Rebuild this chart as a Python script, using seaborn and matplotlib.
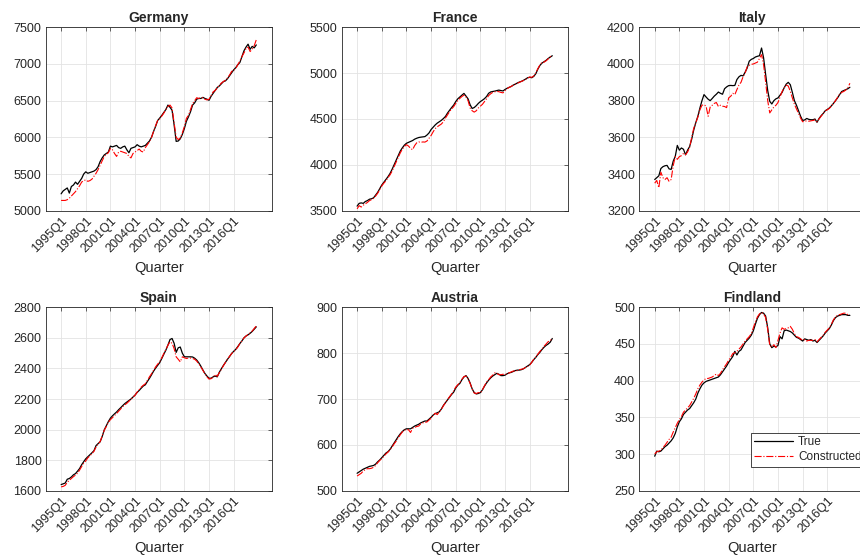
import matplotlib
matplotlib.use("Agg")
import matplotlib.pyplot as plt
import seaborn as sns
import pandas as pd

# quarterly index 0 = 1995Q1 ... 95 = 2018Q4
quarters = [f"{y}Q{q}" for y in range(1995, 2019) for q in range(1, 5)]
tick_labels = ["1995Q1", "1998Q1", "2001Q1", "2004Q1", "2007Q1", "2010Q1", "2013Q1", "2016Q1"]

countries = ["Germany", "France", "Italy", "Spain", "Austria", "Findland"]

de_true = [5230, 5270, 5290, 5310, 5240, 5330, 5350, 5390, 5360, 5400, 5440, 5500,
           5530, 5510, 5520, 5530, 5540, 5560, 5600, 5670, 5720, 5760, 5780, 5800,
           5880, 5870, 5880, 5890, 5860, 5850, 5870, 5880, 5830, 5790, 5850, 5860,
           5870, 5900, 5880, 5870, 5880, 5890, 5920, 5950, 6000, 6080, 6150, 6230,
           6263, 6300, 6340, 6380, 6440, 6410, 6370, 6170, 5945, 5950, 5980, 6040,
           6120, 6220, 6280, 6350, 6440, 6470, 6520, 6530, 6530, 6545, 6530, 6520,
           6505, 6560, 6600, 6640, 6680, 6700, 6730, 6760, 6770, 6800, 6840, 6880,
           6920, 6950, 6990, 7020, 7100, 7180, 7230, 7270, 7200, 7240, 7220, 7260]
de_cons = [5140, 5140, 5140, 5150, 5170, 5200, 5230, 5260, 5300, 5340, 5390, 5410,
           5420, 5400, 5410, 5430, 5470, 5510, 5560, 5620, 5680, 5740, 5770, 5790,
           5850, 5830, 5780, 5740, 5800, 5810, 5800, 5790, 5780, 5740, 5720, 5780,
           5800, 5820, 5840, 5810, 5800, 5860, 5900, 5940, 6000, 6080, 6160, 6230,
           6250, 6290, 6330, 6380, 6420, 6440, 6400, 6200, 6000, 5970, 5990, 6060,
           6150, 6260, 6300, 6380, 6460, 6500, 6540, 6530, 6540, 6540, 6520, 6510,
           6520, 6570, 6620, 6640, 6670, 6710, 6740, 6760, 6780, 6810, 6850, 6900,
           6910, 6940, 6990, 7040, 7100, 7150, 7210, 7230, 7170, 7200, 7250, 7330]

fr_true = [3550, 3580, 3585, 3580, 3600, 3610, 3625, 3630, 3640, 3670, 3700, 3740,
           3780, 3810, 3840, 3870, 3905, 3950, 4000, 4050, 4100, 4150, 4185, 4215,
           4235, 4245, 4255, 4265, 4280, 4290, 4298, 4302, 4305, 4308, 4325, 4348,
           4385, 4410, 4435, 4455, 4470, 4485, 4505, 4528, 4565, 4595, 4625, 4652,
           4690, 4720, 4740, 4760, 4779, 4750, 4720, 4655, 4615, 4625, 4645, 4670,
           4690, 4705, 4722, 4745, 4780, 4795, 4800, 4804, 4810, 4815, 4810, 4806,
           4822, 4835, 4845, 4855, 4870, 4880, 4893, 4903, 4911, 4922, 4935, 4950,
           4955, 4950, 4965, 4995, 5045, 5085, 5110, 5125, 5140, 5160, 5175, 5190]
fr_cons = [3520, 3555, 3540, 3560, 3575, 3590, 3610, 3620, 3635, 3660, 3690, 3730,
           3770, 3800, 3825, 3860, 3890, 3930, 3980, 4030, 4080, 4130, 4170, 4200,
           4220, 4205, 4180, 4165, 4210, 4240, 4250, 4245, 4250, 4248, 4260, 4290,
           4320, 4360, 4395, 4415, 4430, 4445, 4470, 4510, 4545, 4580, 4610, 4635,
           4670, 4700, 4725, 4745, 4760, 4740, 4700, 4620, 4590, 4575, 4590, 4620,
           4640, 4660, 4690, 4720, 4755, 4775, 4790, 4797, 4800, 4798, 4790, 4785,
           4810, 4830, 4845, 4855, 4868, 4880, 4890, 4900, 4910, 4920, 4932, 4945,
           4958, 4955, 4970, 5005, 5050, 5090, 5120, 5120, 5135, 5155, 5180, 5195]

it_true = [3370, 3380, 3390, 3430, 3440, 3445, 3447, 3428, 3425, 3470, 3496, 3556,
           3530, 3542, 3535, 3505, 3530, 3550, 3590, 3640, 3680, 3715, 3760, 3800,
           3833, 3820, 3808, 3800, 3812, 3825, 3835, 3847, 3840, 3835, 3865, 3875,
           3882, 3883, 3882, 3883, 3915, 3930, 3938, 3935, 3955, 3978, 4015, 4025,
           4030, 4038, 4042, 4045, 4087, 4033, 3942, 3855, 3796, 3782, 3800, 3810,
           3815, 3830, 3845, 3870, 3890, 3900, 3887, 3845, 3800, 3775, 3745, 3715,
           3692, 3695, 3703, 3698, 3696, 3696, 3700, 3682, 3703, 3718, 3730, 3745,
           3752, 3760, 3772, 3785, 3800, 3815, 3833, 3850, 3855, 3860, 3865, 3873]
it_cons = [3350, 3365, 3325, 3410, 3380, 3370, 3380, 3360, 3370, 3445, 3495, 3480,
           3495, 3500, 3512, 3505, 3520, 3545, 3600, 3650, 3680, 3710, 3750, 3775,
           3778, 3770, 3715, 3765, 3775, 3785, 3790, 3768, 3775, 3770, 3768, 3762,
           3815, 3824, 3840, 3833, 3860, 3885, 3900, 3930, 3950, 3985, 3993, 3998,
           4000, 4005, 4010, 4030, 4051, 3996, 3900, 3800, 3733, 3750, 3765, 3775,
           3790, 3820, 3850, 3870, 3885, 3880, 3850, 3815, 3780, 3755, 3730, 3705,
           3685, 3688, 3690, 3688, 3690, 3692, 3695, 3685, 3700, 3715, 3730, 3745,
           3750, 3758, 3770, 3785, 3800, 3818, 3835, 3845, 3850, 3858, 3870, 3895]

es_true = [1640, 1645, 1650, 1675, 1680, 1690, 1704, 1712, 1728, 1745, 1770, 1790,
           1809, 1822, 1835, 1848, 1862, 1895, 1908, 1920, 1955, 1998, 2025, 2052,
           2075, 2090, 2103, 2115, 2130, 2143, 2157, 2170, 2180, 2190, 2200, 2213,
           2226, 2243, 2256, 2271, 2285, 2293, 2315, 2335, 2358, 2382, 2402, 2420,
           2438, 2465, 2493, 2520, 2553, 2589, 2596, 2565, 2505, 2535, 2540, 2500,
           2476, 2476, 2476, 2476, 2475, 2467, 2455, 2437, 2415, 2390, 2367, 2350,
           2336, 2336, 2345, 2350, 2345, 2375, 2398, 2420, 2440, 2460, 2478, 2498,
           2512, 2525, 2543, 2563, 2580, 2600, 2612, 2620, 2630, 2642, 2657, 2672]
es_cons = [1625, 1628, 1635, 1655, 1668, 1680, 1692, 1702, 1715, 1735, 1758, 1780,
           1795, 1815, 1828, 1842, 1858, 1885, 1905, 1922, 1958, 1995, 2020, 2048,
           2065, 2078, 2092, 2105, 2120, 2135, 2150, 2162, 2172, 2185, 2198, 2212,
           2225, 2245, 2262, 2278, 2290, 2300, 2322, 2345, 2365, 2388, 2410, 2428,
           2445, 2470, 2498, 2525, 2552, 2574, 2565, 2530, 2476, 2460, 2443, 2476,
           2470, 2465, 2468, 2468, 2465, 2460, 2448, 2430, 2410, 2388, 2365, 2345,
           2330, 2333, 2343, 2360, 2348, 2372, 2395, 2418, 2440, 2460, 2480, 2497,
           2510, 2522, 2540, 2562, 2580, 2600, 2612, 2622, 2632, 2645, 2662, 2678]

at_true = [538, 541, 544, 547, 549, 551, 553, 554, 555, 558, 563, 567,
           572, 577, 582, 585, 590, 597, 604, 611, 618, 624, 629, 633,
           635, 635, 635, 638, 641, 643, 645, 648, 650, 652, 652, 656,
           660, 665, 668, 670, 672, 678, 686, 692, 698, 704, 710, 715,
           724, 730, 734, 742, 748, 751, 745, 735, 722, 714, 711, 712,
           714, 720, 728, 735, 741, 746, 750, 753, 756, 754, 751, 751,
           752, 755, 757, 758, 760, 762, 763, 763, 764, 766, 769, 772,
           775, 780, 786, 791, 797, 802, 808, 813, 817, 820, 824, 832]
at_cons = [532, 535, 538, 543, 546, 548, 548, 549, 551, 555, 561, 566,
           570, 575, 580, 584, 589, 595, 602, 608, 615, 622, 628, 632,
           633, 633, 627, 636, 638, 640, 641, 646, 648, 649, 650, 654,
           658, 664, 669, 666, 672, 678, 685, 692, 699, 705, 711, 718,
           726, 731, 736, 743, 749, 750, 744, 734, 722, 713, 712, 714,
           713, 720, 729, 737, 742, 748, 752, 757, 756, 753, 753, 754,
           753, 755, 757, 759, 761, 761, 762, 764, 765, 766, 769, 771,
           774, 780, 787, 792, 798, 804, 809, 815, 820, 825, 827, 833]

fi_true = [297, 304, 303, 304, 307, 310, 312, 315, 318, 322, 328, 337,
           344, 348, 354, 357, 360, 362, 366, 370, 375, 383, 389, 394,
           397, 399, 400, 401, 402, 403, 404, 405, 408, 412, 416, 420,
           425, 429, 433, 440, 435, 440, 442, 447, 452, 455, 458, 462,
           468, 477, 485, 490, 493, 492, 488, 472, 450, 445, 447, 446,
           448, 460, 457, 468, 469, 468, 467, 465, 462, 459, 458, 456,
           454, 457, 456, 455, 456, 454, 455, 452, 455, 458, 461, 465,
           468, 471, 476, 482, 486, 488, 489, 490, 490, 490, 489, 489]
fi_cons = [300, 303, 304, 305, 309, 312, 316, 320, 323, 330, 336, 342,
           347, 351, 357, 360, 363, 366, 371, 376, 382, 389, 394, 398,
           401, 403, 403, 404, 405, 407, 409, 407, 410, 415, 419, 423,
           428, 432, 437, 438, 440, 443, 446, 450, 454, 457, 460, 464,
           472, 480, 487, 491, 493, 491, 486, 470, 448, 446, 449, 445,
           455, 465, 472, 470, 471, 472, 474, 470, 464, 460, 459, 457,
           455, 456, 454, 455, 455, 455, 456, 453, 456, 459, 462, 466,
           469, 472, 477, 483, 487, 489, 490, 491, 492, 492, 490, 490]

true_vals = [de_true, fr_true, it_true, es_true, at_true, fi_true]
cons_vals = [de_cons, fr_cons, it_cons, es_cons, at_cons, fi_cons]
y_limits = [(5000, 7500, 500), (3500, 5500, 500), (3200, 4200, 200),
            (1600, 2800, 200), (500, 900, 100), (250, 500, 50)]

rows = []
for c, tv, cv in zip(countries, true_vals, cons_vals):
    for i, q in enumerate(quarters):
        rows.append({"country": c, "idx": i, "quarter": q, "series": "True", "value": tv[i]})
        rows.append({"country": c, "idx": i, "quarter": q, "series": "Constructed", "value": cv[i]})
df = pd.DataFrame(rows)

sns.set_style("whitegrid")
plt.rcParams["font.family"] = ["Liberation Sans", "DejaVu Sans"]

fig = plt.figure(figsize=(8.6, 5.6), dpi=100)
lefts = [45.7, 341.7, 639.3]
tops = [27.3, 307.3]
w, h = 226, 183.4
tick_pos = [quarters.index(t) for t in tick_labels]

for k, country in enumerate(countries):
    r, c = divmod(k, 3)
    ax = fig.add_axes([lefts[c] / 860, 1 - (tops[r] + h) / 560, w / 860, h / 560])
    sub = df[df["country"] == country]
    sns.lineplot(data=sub[sub["series"] == "True"], x="idx", y="value", ax=ax,
                 color="black", lw=0.9, label="True")
    sns.lineplot(data=sub[sub["series"] == "Constructed"], x="idx", y="value", ax=ax,
                 color="red", lw=0.8, linestyle="-.", label="Constructed")
    lo, hi, step = y_limits[k]
    ax.set_ylim(lo, hi)
    ax.set_yticks(range(lo, hi + 1, step))
    ax.set_xlim(-7.5, 102.5)
    ax.set_xticks(tick_pos)
    ax.set_xticklabels(tick_labels, rotation=45, ha="right", rotation_mode="anchor")
    ax.set_xlabel("Quarter", fontsize=10.5, color="#262626", labelpad=4)
    ax.set_ylabel("")
    ax.set_title(country, fontsize=10, fontweight="bold", pad=4)
    ax.grid(True, color="#e3e3e3", lw=0.6)
    for s in ax.spines.values():
        s.set_color("#262626")
        s.set_linewidth(0.6)
    ax.tick_params(axis="both", direction="in", length=3, width=0.5, top=True, right=True,
                   labelsize=9, colors="#262626", pad=3)
    if country == "Findland":
        leg = ax.legend(loc="upper left", bbox_to_anchor=(0.493, 0.316), fontsize=8.5,
                        frameon=True, fancybox=False, framealpha=1, edgecolor="#262626",
                        handlelength=3.3, borderpad=0.3, labelspacing=0.25, handletextpad=0.4,
                        borderaxespad=0)
        leg.get_frame().set_linewidth(0.6)
    elif ax.get_legend() is not None:
        ax.get_legend().remove()

fig.savefig("out.png", dpi=100)
